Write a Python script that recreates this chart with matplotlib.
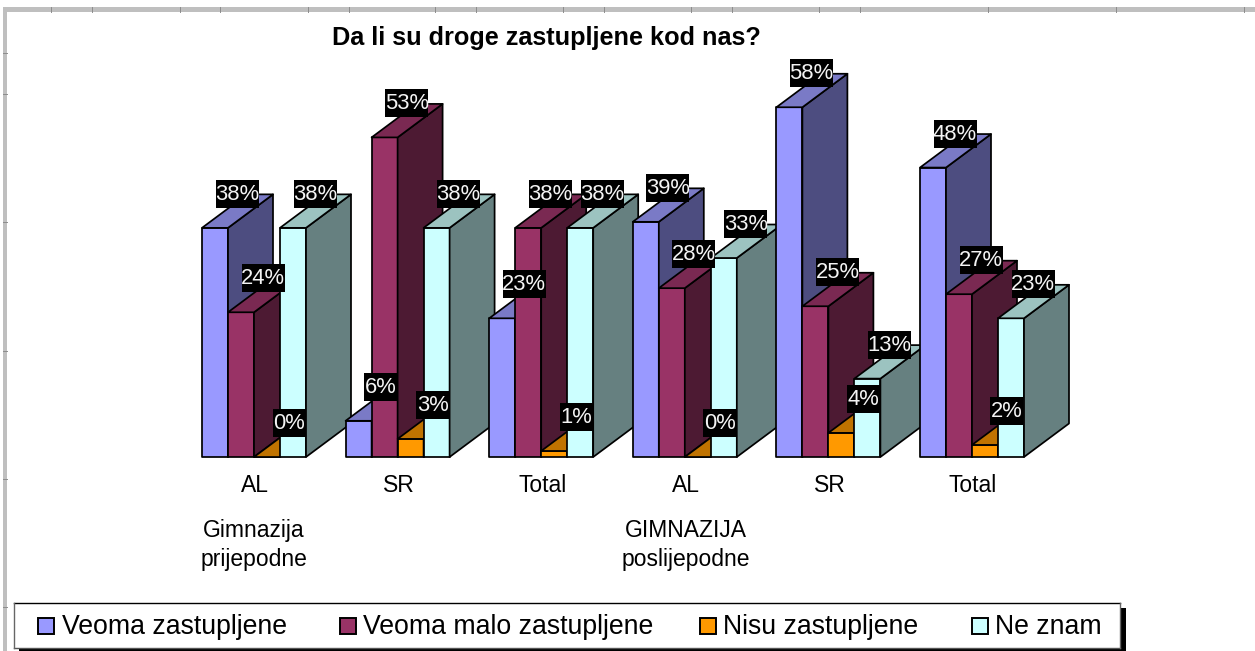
"""Da li su droge zastupljene kod nas? - Excel style 3D clustered columns."""
import matplotlib
matplotlib.use("Agg")
import matplotlib.pyplot as plt
from matplotlib.patches import Polygon, Rectangle

plt.rcParams["font.family"] = ["Liberation Sans", "DejaVu Sans"]

TITLE = "Da li su droge zastupljene kod nas?"
CATEGORIES = ["AL", "SR", "Total", "AL", "SR", "Total"]
SERIES = ["Veoma zastupljene", "Veoma malo zastupljene", "Nisu zastupljene", "Ne znam"]
VEOMA = [38, 6, 23, 39, 58, 48]
MALO = [24, 53, 38, 28, 25, 27]
NISU = [0, 3, 1, 0, 4, 2]
NE_ZNAM = [38, 38, 38, 33, 13, 23]
FRONT = ["#9999ff", "#993366", "#ff9900", "#ccffff"]
TOP = ["#7a7ac6", "#7a2952", "#c07300", "#9cc3c0"]
SIDE = ["#4d4d80", "#4d1a33", "#804d00", "#668080"]

RULER_X = [51, 92, 180, 220, 308, 349, 435, 476, 563, 604, 691, 732, 819, 860, 988, 1116, 1244]
RULER_Y = [53, 94, 222, 351, 479, 607]

W, H = 1255, 651
BAR_PX, PCT_PX = 26.0, 6.03
X0, Y0 = 202, 457
GROUP_STEP = 143.6 / BAR_PX
DEPTH_X, DEPTH_Y = 45 / BAR_PX, 33.5 / PCT_PX
LW = 1.25


def pts(px):
    return px * 72 / 100


fig = plt.figure(figsize=(W / 100, H / 100), dpi=100)

# page chrome and legend, in pixels
chrome = fig.add_axes([0, 0, 1, 1], zorder=0)
chrome.set_xlim(0, W)
chrome.set_ylim(H, 0)
chrome.axis("off")
chrome.add_patch(Rectangle((3, 7), W - 3, 4.6, fc="#bfbfbf", ec="none"))
chrome.add_patch(Rectangle((3, 7), 4.4, H - 7, fc="#bfbfbf", ec="none"))
for x in RULER_X:
    chrome.plot([x, x], [7, 11.6], color="#8c8c8c", lw=0.7)
for y in RULER_Y:
    chrome.plot([3, 7.4], [y, y], color="#8c8c8c", lw=0.7)

chrome.add_patch(Rectangle((19, 608), 1107, 43, fc="black", ec="none"))
chrome.add_patch(Rectangle((14, 603), 1106, 45, fc="white", ec="none"))
chrome.plot([14, 1120], [603, 603], color="black", lw=1.0)
chrome.plot([14, 1120], [648, 648], color="#555555", lw=1.0)
chrome.plot([14, 14], [603, 648], color="#666666", lw=1.0)
chrome.plot([1120, 1120], [603, 648], color="#666666", lw=1.0)
chrome.text(332, 38.5, TITLE, fontsize=18.2, fontweight="bold", va="center", ha="left")
chrome.text(254, 530.5, "Gimnazija", fontsize=16.5, ha="center", va="center")
chrome.text(254, 559.5, "prijepodne", fontsize=16.5, ha="center", va="center")
chrome.text(685.5, 530.5, "GIMNAZIJA", fontsize=16.5, ha="center", va="center")
chrome.text(685.5, 559.5, "poslijepodne", fontsize=16.5, ha="center", va="center")
for name, color, sx, tx in zip(SERIES, FRONT, [38, 340, 700, 972], [62, 363, 723, 995]):
    chrome.add_patch(Rectangle((sx, 618), 16, 16, fc=color, ec="black", lw=1.4))
    chrome.text(tx, 627.5, name, fontsize=19.2, va="center", ha="left")

# the columns, in bar widths and percent
ax = fig.add_axes([0, 0, 1, 1], zorder=1)
ax.patch.set_alpha(0)
ax.set_xlim(-X0 / BAR_PX, (W - X0) / BAR_PX)
ax.set_ylim(-(H - Y0) / PCT_PX, Y0 / PCT_PX)
ax.axis("off")

values = [VEOMA, MALO, NISU, NE_ZNAM]
for g, cat in enumerate(CATEGORIES):
    left = g * GROUP_STEP
    for s in range(len(SERIES)):
        v = values[s][g]
        x = left + s
        ax.add_patch(Rectangle((x, 0), 1, v, fc=FRONT[s], ec="black", lw=LW, joinstyle="round"))
        ax.add_patch(Polygon([(x + 1, 0), (x + 1 + DEPTH_X, DEPTH_Y), (x + 1 + DEPTH_X, v + DEPTH_Y), (x + 1, v)],
                             fc=SIDE[s], ec="black", lw=LW, joinstyle="round"))
        ax.add_patch(Polygon([(x, v), (x + DEPTH_X, v + DEPTH_Y), (x + 1 + DEPTH_X, v + DEPTH_Y), (x + 1, v)],
                             fc=TOP[s], ec="black", lw=LW, joinstyle="round"))
        # label box is wider for two digits, so it sits in front of everything as a patch
        box_w = 43 if v >= 10 else 33
        ax.add_patch(Rectangle((x + (35 - box_w / 2) / BAR_PX, v + 20 / PCT_PX), box_w / BAR_PX, 28 / PCT_PX,
                               fc="black", ec="none", zorder=9))
        ax.annotate(f"{v}%", (x, v), xytext=(pts(35), pts(33.5)), textcoords="offset points",
                    color="#f4f4f4", fontsize=15.8, ha="center", va="center", zorder=10)
    ax.annotate(cat, (left + 2, 0), xytext=(pts(1), pts(-28)), textcoords="offset points",
                fontsize=16.5, ha="center", va="center")

fig.savefig("out.png", dpi=100)
